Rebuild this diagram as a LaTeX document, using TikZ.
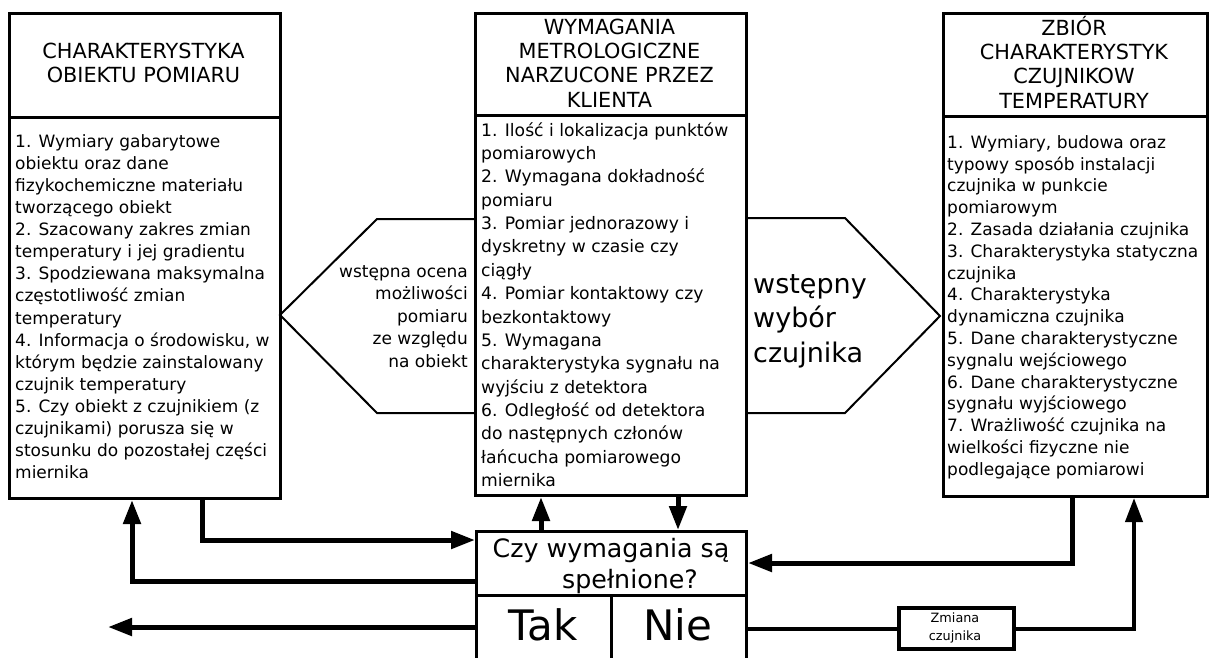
\documentclass[tikz,border=0pt]{standalone}
\usepackage{fontspec}
\setmainfont{DejaVu Sans}
\usetikzlibrary{arrows.meta}
\newcommand\mystrut[1]{\rule{0pt}{#1}}
\begin{document}
\begin{tikzpicture}[x=1pt,y=-1pt,
  box/.style={draw, line width=3pt, inner sep=0pt, anchor=north west},
  hexline/.style={line width=2pt, line join=miter},
  arr/.style={line width=5pt, -{Triangle[length=24pt,width=17pt]}},
  thinconn/.style={line width=4pt},
  bodytext/.style={inner sep=0pt, anchor=north west, align=left, font=\fontsize{17}{22.1}\selectfont},
  titletext/.style={inner sep=0pt, anchor=north, align=center}
]
\useasboundingbox (0,0) rectangle (1209,657);
\fill[white] (0,0) rectangle (1209,657);
\clip (0,0) rectangle (1209,657);

% left column
\node[box, minimum width=271pt, minimum height=104pt] (lt) at (8,12) {};
\node[box, minimum width=271pt, minimum height=381pt] (lb) at (8,116) {};
\node[titletext, font=\fontsize{20.8}{24}\selectfont] (ltt) at (143.5,38) {\mystrut{20pt}CHARAKTERYSTYKA\\OBIEKTU POMIARU};
\node[bodytext] (lbt) at (15,131) {\mystrut{16pt}1. Wymiary gabarytowe\\obiektu oraz dane\\fizykochemiczne materiału\\tworzącego obiekt\\2. Szacowany zakres zmian\\temperatury i jej gradientu\\3. Spodziewana maksymalna\\częstotliwość zmian\\temperatury\\4. Informacja o środowisku, w\\którym będzie zainstalowany\\czujnik temperatury\\5. Czy obiekt z czujnikiem (z\\czujnikami) porusza się w\\stosunku do pozostałej części\\miernika};

% middle column
\node[box, minimum width=271pt, minimum height=102pt] (mt) at (474,12) {};
\node[box, minimum width=271pt, minimum height=380pt] (mb) at (474,114) {};
\node[titletext, font=\fontsize{20.8}{24.3}\selectfont] (mtt) at (609.5,14) {\mystrut{20pt}WYMAGANIA\\METROLOGICZNE\\NARZUCONE PRZEZ\\KLIENTA};
\node[bodytext, font=\fontsize{17.2}{23.35}\selectfont] (mbt) at (481,120) {\mystrut{16pt}1. Ilość i lokalizacja punktów\\pomiarowych\\2. Wymagana dokładność\\pomiaru\\3. Pomiar jednorazowy i\\dyskretny w czasie czy\\ciągły\\4. Pomiar kontaktowy czy\\bezkontaktowy\\5. Wymagana\\charakterystyka sygnału na\\wyjściu z detektora\\6. Odległość od detektora\\do następnych członów\\łańcucha pomiarowego\\miernika};

% right column
\node[box, minimum width=264pt, minimum height=103pt] (rt) at (942,12) {};
\node[box, minimum width=264pt, minimum height=380pt] (rb) at (942,115) {};
\node[titletext, font=\fontsize{20.8}{24.3}\selectfont] (rtt) at (1074,15) {\mystrut{20pt}ZBIÓR\\CHARAKTERYSTYK\\CZUJNIKOW\\TEMPERATURY};
\node[bodytext, font=\fontsize{17}{21.8}\selectfont] (rbt) at (947,132) {\mystrut{16pt}1. Wymiary, budowa oraz\\typowy sposób instalacji\\czujnika w punkcie\\pomiarowym\\2. Zasada działania czujnika\\3. Charakterystyka statyczna\\czujnika\\4. Charakterystyka\\dynamiczna czujnika\\5. Dane charakterystyczne\\sygnalu wejściowego\\6. Dane charakterystyczne\\sygnału wyjściowego\\7. Wrażliwość czujnika na\\wielkości fizyczne nie\\podlegające pomiarowi};

% hexagons
\draw[hexline] (474,219) -- (377,219) -- (280,315) -- (377,413) -- (474,413);
\node[inner sep=0pt, anchor=north east, align=right, font=\fontsize{17}{22.5}\selectfont] (lht) at (468,261) {\mystrut{16pt}wstępna ocena\\możliwości\\pomiaru\\ze względu\\na obiekt};
\draw[hexline] (745,218) -- (845,218) -- (940,316) -- (845,413) -- (745,413);
\node[inner sep=0pt, anchor=north west, align=left, font=\fontsize{27}{34.5}\selectfont] (rht) at (753,267) {\mystrut{26pt}wstępny\\wybór\\czujnika};

% question box
\node[box, minimum width=270pt, minimum height=64pt] (q) at (475,530) {};
\node[box, minimum width=135pt, minimum height=90pt] (tak) at (475,594) {};
\node[box, minimum width=135pt, minimum height=90pt] (nie) at (610,594) {};
\node[inner sep=0pt, anchor=north, align=center, font=\fontsize{25.3}{31}\selectfont] (qt) at (611,531) {\mystrut{26pt}Czy wymagania są\\\hspace*{38pt}spełnione?};
\node[inner sep=0pt, anchor=base, font=\fontsize{42}{46}\selectfont] (takt) at (543,640) {Tak};
\node[inner sep=0pt, anchor=base, font=\fontsize{42}{46}\selectfont] (niet) at (678,640) {Nie};

% Zmiana box
\node[draw, line width=4pt, inner sep=0pt, anchor=north west, minimum width=115pt, minimum height=41pt] (zm) at (897,606) {};
\node[inner sep=0pt, anchor=north, align=center, font=\fontsize{12.8}{18}\selectfont] (zmt) at (955,609) {\mystrut{13pt}Zmiana\\czujnika};

% connectors
\coordinate (tip1) at (108,627);
\draw[arr] (lb.south -| 202,0) |- (q.west |- 0,540);
\draw[arr] (q.west |- 0,581) -| (lb.south -| 132,0);
\draw[arr] (tak.west |- tip1) -- (tip1);
\draw[arr] (mb.south -| 678,0) -- (q.north -| 678,0);
\draw[arr] (q.north -| 541,0) -- (mb.south -| 541,0);
\draw[arr] (rb.south -| 1072,0) |- (q.east |- 0,563);
\draw[thinconn] (nie.east |- zm.west) -- (zm.west);
\draw[arr, line width=4pt] (zm.east) -| (rb.south -| 1134,0);
\end{tikzpicture}
\end{document}
